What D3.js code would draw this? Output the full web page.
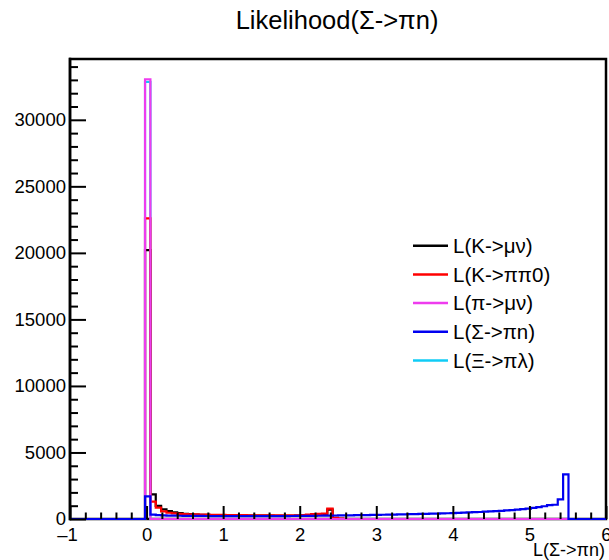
<!DOCTYPE html>
<html>
<head>
<meta charset="utf-8">
<script src="https://cdn.jsdelivr.net/npm/d3@7"></script>
<style>
  body { margin: 0; background: #fff; }
  svg { display: block; }
  text { font-family: "Liberation Sans", Arial, Helvetica, sans-serif; fill: #000; }
</style>
</head>
<body>
<svg id="chart" width="609" height="560"></svg>
<script>
// Histogram binning: 100 bins on [-1, 6]
const xMin = -1, xMax = 6, nBins = 100;

// Bin contents per hypothesis
const kMuNu = [
  0,0,0,0,0,0,0,0,0,0, 0,0,0,0,20200,1850,980,730,600,500,
  440,395,360,335,318,305,296,288,282,276, 270,266,262,258,255,252,250,248,246,245,
  244,246,250,262,290,325,345,365,700,80, 20,0,0,0,0,0,0,0,0,0,
  0,0,0,0,0,0,0,0,0,0, 0,0,0,0,0,0,0,0,0,0,
  0,0,0,0,0,0,0,0,0,0, 0,0,0,0,0,0,0,0,0,0
];
const kPiPi0 = [
  0,0,0,0,0,0,0,0,0,0, 0,0,0,0,22600,1300,850,570,470,420,
  390,370,355,345,335,326,318,311,305,300, 296,291,287,283,280,277,274,272,270,268,
  267,270,276,292,322,362,382,402,780,95, 30,0,0,0,0,0,0,0,0,0,
  0,0,0,0,0,0,0,0,0,0, 0,0,0,0,0,0,0,0,0,0,
  0,0,0,0,0,0,0,0,0,0, 0,0,0,0,0,0,0,0,0,0
];
const piMuNu = [
  0,0,0,0,0,0,0,0,0,0, 0,0,0,0,33050,0,0,0,0,0,
  0,0,0,0,0,0,0,0,0,0, 0,0,0,0,0,0,0,0,0,0,
  0,0,0,0,0,0,0,0,0,0, 0,0,0,0,0,0,0,0,0,0,
  0,0,0,0,0,0,0,0,0,0, 0,0,0,0,0,0,0,0,0,0,
  0,0,0,0,0,0,0,0,0,0, 0,0,0,0,0,0,0,0,0,0
];
const sigmaPiN = [
  0,0,0,0,0,0,0,0,0,0, 0,0,0,0,1700,330,290,268,258,250,
  246,240,236,230,228,224,222,219,218,215, 216,213,212,214,211,213,214,216,217,220,
  222,226,228,233,236,241,245,251,255,262, 266,273,277,285,290,298,303,312,318,327,
  333,343,350,360,367,379,387,399,409,423, 434,449,461,478,492,511,527,548,566,591,
  614,643,671,706,741,786,834,896,958,1050, 1070,1480,3350,0,0,0,0,0,0,0
];
const xiPiLambda = [
  0,0,0,0,0,0,0,0,0,0, 0,0,0,0,32850,0,0,0,0,0,
  0,0,0,0,0,0,0,0,0,0, 0,0,0,0,0,0,0,0,0,0,
  0,0,0,0,0,0,0,0,0,0, 0,0,0,0,0,0,0,0,0,0,
  0,0,0,0,0,0,0,0,0,0, 0,0,0,0,0,0,0,0,0,0,
  0,0,0,0,0,0,0,0,0,0, 0,0,0,0,0,0,0,0,0,0
];

const legendLabels = ["L(K->\u03bc\u03bd)", "L(K->\u03c0\u03c00)", "L(\u03c0->\u03bc\u03bd)", "L(\u03a3->\u03c0n)", "L(\u039e->\u03c0\u03bb)"];
const xTickValues = [-1, 0, 1, 2, 3, 4, 5, 6];
const yTickValues = [0, 5000, 10000, 15000, 20000, 25000, 30000];
const titleText = "Likelihood(\u03a3->\u03c0n)";
const xAxisTitle = "L(\u03a3->\u03c0n)";

const colors = ["#000000", "#ff0000", "#ee3cee", "#0000f0", "#10ccf6"];
const seriesData = [kMuNu, kPiPi0, piMuNu, sigmaPiN, xiPiLambda];

const svg = d3.select("#chart");
const frame = { left: 70, right: 606, top: 59, bottom: 519 };

const x = d3.scaleLinear().domain([xMin, xMax]).range([frame.left, frame.right]);
const y = d3.scaleLinear().domain([0, 34570]).range([frame.bottom, frame.top]);
const binWidth = (xMax - xMin) / nBins;

// Title
svg.append("text")
  .attr("x", 337).attr("y", 29)
  .attr("text-anchor", "middle")
  .style("font-size", "25.5px")
  .text(titleText);

// Frame
svg.append("rect")
  .attr("x", frame.left).attr("y", frame.top)
  .attr("width", frame.right - frame.left).attr("height", frame.bottom - frame.top)
  .attr("fill", "none").attr("stroke", "#000").attr("stroke-width", 2.5);

svg.append("clipPath").attr("id", "plotClip")
  .append("rect")
  .attr("x", frame.left).attr("y", frame.top - 2)
  .attr("width", frame.right - frame.left).attr("height", frame.bottom - frame.top + 3);

// Histograms as step outlines; cyan first so it sits underneath
const drawOrder = [4, 0, 1, 2, 3];
const step = d3.line().curve(d3.curveStepAfter).x(d => x(d[0])).y(d => y(d[1]));
const histG = svg.append("g").attr("clip-path", "url(#plotClip)");
drawOrder.forEach(i => {
  const vals = seriesData[i];
  const pts = vals.map((v, k) => [xMin + k * binWidth, v]);
  pts.push([xMax, vals[vals.length - 1]]);
  histG.append("path")
    .attr("d", step(pts))
    .attr("fill", "none")
    .attr("stroke", colors[i])
    .attr("stroke-width", 2.2);
});

// X axis: major and minor ticks pointing up
const xMinor = d3.range(-1, 6.001, 0.2).map(v => +v.toFixed(2)).filter(v => Math.abs(v - Math.round(v)) > 1e-6);
const xAxisMinor = svg.append("g").attr("transform", `translate(0,${frame.bottom})`)
  .call(d3.axisBottom(x).tickValues(xMinor).tickSizeInner(-6.5).tickSizeOuter(0).tickFormat(""));
const xAxisMajor = svg.append("g").attr("transform", `translate(0,${frame.bottom})`)
  .call(d3.axisBottom(x).tickValues(xTickValues).tickSizeInner(-13).tickSizeOuter(0).tickPadding(9)
    .tickFormat(d => d < 0 ? "\u2013" + Math.abs(d) : String(d)));
xAxisMajor.selectAll("text").style("font-size", "18.5px")
  .attr("dx", d => d < 0 ? -3 : 0);

// Y axis: major and minor ticks pointing right
const yMinor = d3.range(1000, 34570, 1000).filter(v => v % 5000 !== 0);
const yAxisMinor = svg.append("g").attr("transform", `translate(${frame.left},0)`)
  .call(d3.axisLeft(y).tickValues(yMinor).tickSizeInner(-8).tickSizeOuter(0).tickFormat(""));
const yAxisMajor = svg.append("g").attr("transform", `translate(${frame.left},0)`)
  .call(d3.axisLeft(y).tickValues(yTickValues).tickSizeInner(-16).tickSizeOuter(0).tickPadding(4)
    .tickFormat(d3.format("d")));
yAxisMajor.selectAll("text").style("font-size", "18.5px");

[xAxisMinor, xAxisMajor, yAxisMinor, yAxisMajor].forEach(g => {
  g.select(".domain").remove();
  g.selectAll("line").attr("stroke", "#000").attr("stroke-width", 2);
});

// Left axis line on top
svg.append("line")
  .attr("x1", frame.left).attr("x2", frame.left)
  .attr("y1", frame.top - 1.25).attr("y2", frame.bottom + 1.25)
  .attr("stroke", "#000").attr("stroke-width", 2.5);

// X axis title
svg.append("text")
  .attr("x", 605).attr("y", 556)
  .attr("text-anchor", "end")
  .style("font-size", "18px")
  .text(xAxisTitle);

// Legend
const legend = svg.append("g");
legendLabels.forEach((lab, i) => {
  const yy = 245.7 + i * 28.7;
  legend.append("line")
    .attr("x1", 413).attr("x2", 448).attr("y1", yy).attr("y2", yy)
    .attr("stroke", colors[i]).attr("stroke-width", 2.5);
  legend.append("text")
    .attr("x", 453).attr("y", yy).attr("dy", "0.36em")
    .style("font-size", "20.5px")
    .text(lab);
});
</script>
</body>
</html>
